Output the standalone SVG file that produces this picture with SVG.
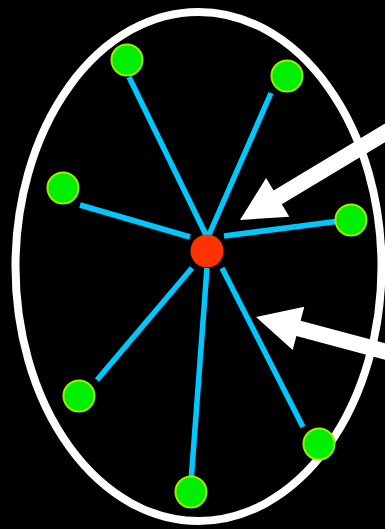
<svg xmlns="http://www.w3.org/2000/svg" width="385" height="529" viewBox="0 0 385 529">
<style>
.edge{stroke:#00c8ff;stroke-width:5.5;fill:none}
.leaf{fill:#00ee00;stroke:#99ee00;stroke-width:2}
.arrow{fill:#ffffff}
</style>
<rect width="385" height="529" fill="#000"/>
<ellipse cx="198.5" cy="266.5" rx="183" ry="254.5" fill="none" stroke="#fff" stroke-width="8"/>
<g id="connectors">
<line class="edge" x1="129" y1="77" x2="207" y2="237"/>
<line class="edge" x1="271" y1="93" x2="208" y2="237"/>
<line class="edge" x1="80" y1="205" x2="190" y2="237"/>
<line class="edge" x1="340" y1="221" x2="224" y2="236"/>
<line class="edge" x1="97" y1="380" x2="192" y2="268"/>
<line class="edge" x1="191" y1="482" x2="207" y2="268"/>
<line class="edge" x1="303" y1="427" x2="222" y2="268"/>
</g>
<g id="center"><circle cx="207" cy="251" r="16.5" fill="#ff3300"/></g>
<g id="n1"><circle class="leaf" cx="127" cy="60" r="15.5"/></g>
<g id="n2"><circle class="leaf" cx="287" cy="76" r="15.5"/></g>
<g id="n3"><circle class="leaf" cx="63" cy="188" r="15.5"/></g>
<g id="n4"><circle class="leaf" cx="351" cy="220" r="15.5"/></g>
<g id="n5"><circle class="leaf" cx="79" cy="396" r="15.5"/></g>
<g id="n6"><circle class="leaf" cx="191" cy="492" r="15.5"/></g>
<g id="n7"><circle class="leaf" cx="319" cy="444" r="15.5"/></g>
<g id="arrow1"><polygon class="arrow" points="240,220 266.1,178.1 273.6,190.5 449.9,84.6 458.1,98.4 281.8,204.3 289.3,216.7"/></g>
<g id="arrow2"><polygon class="arrow" points="256,317 304.3,306.7 300.6,320.7 451.3,360.9 447.1,376.3 296.4,336.1 292.7,350.1"/></g>
</svg>
